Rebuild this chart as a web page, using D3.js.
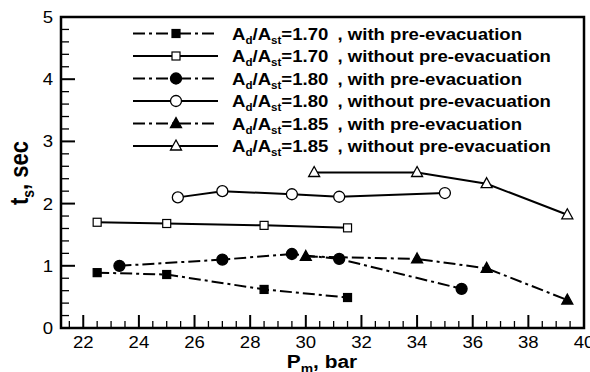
<!DOCTYPE html>
<html>
<head>
<meta charset="utf-8">
<script src="https://cdn.jsdelivr.net/npm/d3@7"></script>
<style>
  body { margin: 0; background: #fff; }
  text { font-family: "Liberation Sans", Arial, sans-serif; }
</style>
</head>
<body>
<div class="content"></div>
<script>
// series data: [P_m (bar), t_s (sec)]
var ratios = ["1.70", "1.70", "1.80", "1.80", "1.85", "1.85"];
var modes = ["with pre-evacuation", "without pre-evacuation",
             "with pre-evacuation", "without pre-evacuation",
             "with pre-evacuation", "without pre-evacuation"];
var symbols = ["square", "square", "circle", "circle", "triangle", "triangle"];
var filled = [true, false, true, false, true, false];

var s170With = [[22.5, 0.89], [25, 0.86], [28.5, 0.62], [31.5, 0.49]];
var s170Without = [[22.5, 1.70], [25, 1.68], [28.5, 1.65], [31.5, 1.61]];
var s180With = [[23.3, 1.00], [27, 1.10], [29.5, 1.19], [31.2, 1.11], [35.6, 0.63]];
var s180Without = [[25.4, 2.10], [27, 2.20], [29.5, 2.15], [31.2, 2.11], [35, 2.17]];
var s185With = [[30, 1.15], [34, 1.11], [36.5, 0.96], [39.4, 0.45]];
var s185Without = [[30.3, 2.50], [34, 2.50], [36.5, 2.32], [39.4, 1.82]];
var allSeries = [s170With, s170Without, s180With, s180Without, s185With, s185Without];

var xTicks = [22, 24, 26, 28, 30, 32, 34, 36, 38, 40];
var yTicks = [0, 1, 2, 3, 4, 5];

var W = 590, H = 372;
var margin = {top: 17, right: 6, bottom: 44, left: 61};
var SX = 1.16; // the original text is a bit wider than it is tall

var svg = d3.select(".content")
  .append("svg")
  .attr("width", W)
  .attr("height", H)

var x = d3.scaleLinear().domain([21.2, 40]).range([margin.left, W - margin.right]);
var y = d3.scaleLinear().domain([0, 5]).range([H - margin.bottom, margin.top]);

function place(px, py) {
  return "translate(" + px + "," + py + ") scale(" + SX + ",1)";
}

// ticks pointing inward, minor ones shorter
var g = svg.append("g");
d3.range(21.5, 40.01, 0.5).forEach(function(v) {
  var major = Math.abs(v - Math.round(v)) < 1e-6 && Math.round(v) % 2 === 0;
  g.append("line")
    .attr("x1", x(v)).attr("x2", x(v))
    .attr("y1", y(0)).attr("y2", y(0) - (major ? 13 : 7))
    .attr("stroke", "#000").attr("stroke-width", major ? 2 : 1.3);
});
d3.range(0, 5.001, 0.2).forEach(function(v) {
  var major = Math.abs(v - Math.round(v)) < 1e-6;
  g.append("line")
    .attr("x1", x.range()[0]).attr("x2", x.range()[0] + (major ? 14 : 8))
    .attr("y1", y(v)).attr("y2", y(v))
    .attr("stroke", "#000").attr("stroke-width", major ? 2 : 1.3);
});

// tick labels
svg.selectAll(".xl").data(xTicks).enter().append("text")
  .attr("transform", function(d) { return place(x(d), H - margin.bottom + 20); })
  .attr("text-anchor", "middle")
  .style("font-size", "16px")
  .text(function(d) { return d; });
svg.selectAll(".yl").data(yTicks).enter().append("text")
  .attr("transform", function(d) { return place(margin.left - 8, y(d) + 6); })
  .attr("text-anchor", "end")
  .style("font-size", "16px")
  .text(function(d) { return d; });

// frame
svg.append("rect")
  .attr("x", margin.left).attr("y", margin.top)
  .attr("width", W - margin.left - margin.right)
  .attr("height", H - margin.top - margin.bottom)
  .attr("fill", "none").attr("stroke", "#000").attr("stroke-width", 2.5);

// axis titles
var xt = svg.append("text")
  .attr("transform", place(322, 368))
  .attr("text-anchor", "middle")
  .style("font-size", "18px").style("font-weight", "bold");
xt.append("tspan").text("P");
xt.append("tspan").attr("dy", 5).style("font-size", "12px").text("m");
xt.append("tspan").attr("dy", -5).text(", bar");

var yt = svg.append("text")
  .attr("transform", "translate(28,173) scale(" + SX + ",1) rotate(-90)")
  .attr("text-anchor", "middle")
  .style("font-size", "22px").style("font-weight", "bold");
yt.append("tspan").text("t");
yt.append("tspan").attr("dy", 5).style("font-size", "14px").text("s");
yt.append("tspan").attr("dy", -5).text(", sec");

function marker(sel, i) {
  var fill = filled[i] ? "#000" : "#fff";
  if (symbols[i] === "square") {
    sel.append("rect").attr("x", -4).attr("y", -4).attr("width", 8).attr("height", 8)
      .attr("fill", fill).attr("stroke", "#000").attr("stroke-width", 1.2);
  } else if (symbols[i] === "circle") {
    sel.append("circle").attr("r", 5.5)
      .attr("fill", fill).attr("stroke", "#000").attr("stroke-width", 1.3);
  } else {
    sel.append("path").attr("d", "M0,-6L5.5,4L-5.5,4Z")
      .attr("fill", fill).attr("stroke", "#000").attr("stroke-width", 1.3);
  }
}

var line = d3.line()
  .x(function(d) { return x(d[0]); })
  .y(function(d) { return y(d[1]); });

allSeries.forEach(function(data, i) {
  svg.append("path")
    .attr("d", line(data))
    .attr("fill", "none").attr("stroke", "#000").attr("stroke-width", 2)
    .attr("stroke-dasharray", filled[i] ? "12,4,3,4" : null);
  svg.selectAll(".m" + i).data(data).enter().append("g")
    .attr("transform", function(d) { return "translate(" + x(d[0]) + "," + y(d[1]) + ")"; })
    .each(function() { marker(d3.select(this), i); });
});

// legend
ratios.forEach(function(r, i) {
  var ly = 33.5 + i * 22.5;
  var lg = svg.append("g");
  lg.append("line")
    .attr("x1", 133).attr("x2", 218).attr("y1", ly).attr("y2", ly)
    .attr("stroke", "#000").attr("stroke-width", 2)
    .attr("stroke-dasharray", filled[i] ? "12,4,3,4" : null);
  var mg = lg.append("g").attr("transform", "translate(176," + ly + ")");
  marker(mg, i);
  var t = lg.append("text")
    .attr("transform", place(232, ly + 6))
    .style("font-size", "16px").style("font-weight", "bold");
  t.append("tspan").text("A");
  t.append("tspan").attr("dy", 4).style("font-size", "10px").text("d");
  t.append("tspan").attr("dy", -4).text("/A");
  t.append("tspan").attr("dy", 4).style("font-size", "10px").text("st");
  t.append("tspan").attr("dy", -4).text("=" + r);
  t.append("tspan").attr("dx", 8).text(", " + modes[i]);
});
</script>
</body>
</html>
